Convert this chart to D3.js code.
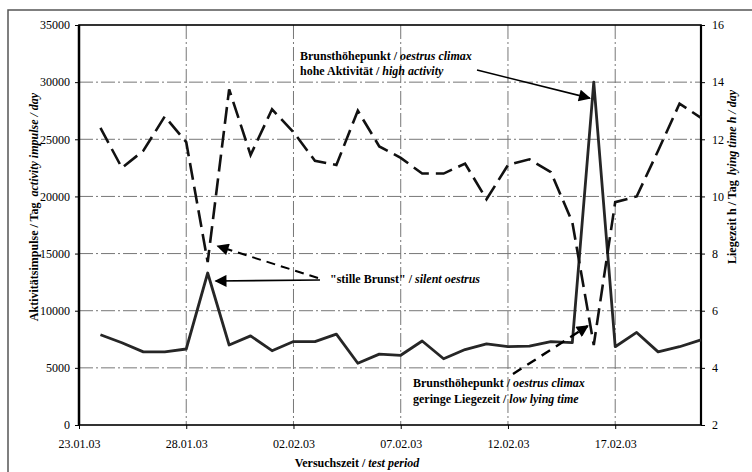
<!DOCTYPE html>
<html>
<head>
<meta charset="utf-8">
<script src="https://cdn.jsdelivr.net/npm/d3@7"></script>
<style>
  body { margin: 0; background: #fff; }
  svg { display: block; font-family: "Liberation Serif", "DejaVu Serif", serif; }
  .axis path { display: none; }
  .axis line { stroke: #000; }
</style>
</head>
<body>
<svg id="chart" width="752" height="472"></svg>
<script>
// data
const days = ["24.01.03", "25.01.03", "26.01.03", "27.01.03", "28.01.03", "29.01.03", "30.01.03",
  "31.01.03", "01.02.03", "02.02.03", "03.02.03", "04.02.03", "05.02.03", "06.02.03", "07.02.03",
  "08.02.03", "09.02.03", "10.02.03", "11.02.03", "12.02.03", "13.02.03", "14.02.03", "15.02.03",
  "16.02.03", "17.02.03", "18.02.03", "19.02.03", "20.02.03", "21.02.03"];
// activity impulses per day (left axis)
const activity = [7900, 7200, 6400, 6400, 6650, 13300, 7000, 7800, 6500, 7300, 7300, 7950, 5400, 6200, 6100,
  7350, 5800, 6600, 7100, 6850, 6900, 7300, 7200, 30000, 6850, 8100, 6400, 6850, 7450];
// lying time h per day (right axis)
const lying = [12.4, 11.0, 11.6, 12.8, 11.9, 7.7, 13.75, 11.45, 13.05, 12.25, 11.25, 11.1, 13.0, 11.75, 11.35,
  10.8, 10.8, 11.15, 9.9, 11.1, 11.3, 10.85, 9.1, 4.8, 9.8, 10.0, 11.6, 13.25, 12.75];
const xTicks = ["23.01.03", "28.01.03", "02.02.03", "07.02.03", "12.02.03", "17.02.03"];
const xEnd = "21.02.03";
const leftTicks = [0, 5000, 10000, 15000, 20000, 25000, 30000, 35000];
const rightTicks = [2, 4, 6, 8, 10, 12, 14, 16];

const parse = d3.timeParse("%d.%m.%y");
const fmt = d3.timeFormat("%d.%m.%y");
const serif = "'Liberation Serif', 'DejaVu Serif', serif";

const margin = { top: 25, right: 51, bottom: 47, left: 79 };
const width = 752 - margin.left - margin.right;
const height = 472 - margin.top - margin.bottom;

const svg = d3.select("#chart");

// outer frame of the scanned figure
svg.append("rect")
  .attr("x", 8).attr("y", 10)
  .attr("width", 800).attr("height", 500)
  .attr("fill", "none").attr("stroke", "#555").attr("stroke-width", 1.5);

const g = svg.append("g").attr("transform", `translate(${margin.left},${margin.top})`);

const x = d3.scaleTime()
  .domain([parse(xTicks[0]), parse(xEnd)])
  .range([0, width]);
const yL = d3.scaleLinear().domain([0, 35000]).range([height, 0]);
const yR = d3.scaleLinear().domain([2, 16]).range([height, 0]);

// grid
g.append("g")
  .selectAll("line")
  .data(leftTicks.slice(1, -1))
  .join("line")
  .attr("x1", 0).attr("x2", width)
  .attr("y1", d => yL(d)).attr("y2", d => yL(d))
  .attr("stroke", "#777").attr("stroke-width", 1)
  .attr("stroke-dasharray", "14,3,2,3");

g.append("g")
  .selectAll("line")
  .data(xTicks.slice(1))
  .join("line")
  .attr("x1", d => x(parse(d))).attr("x2", d => x(parse(d)))
  .attr("y1", 0).attr("y2", height)
  .attr("stroke", "#777").attr("stroke-width", 1)
  .attr("stroke-dasharray", "14,3,2,3");

// axes
g.append("g").attr("class", "axis")
  .call(d3.axisLeft(yL).tickValues(leftTicks).tickFormat(d3.format("d")).tickSize(4).tickPadding(5))
  .attr("font-family", serif).attr("font-size", 12);

g.append("g").attr("class", "axis")
  .attr("transform", `translate(${width},0)`)
  .call(d3.axisRight(yR).tickValues(rightTicks).tickSize(4).tickPadding(7))
  .attr("font-family", serif).attr("font-size", 12);

g.append("g").attr("class", "axis")
  .attr("transform", `translate(0,${height})`)
  .call(d3.axisBottom(x).tickValues(xTicks.map(parse)).tickFormat(fmt).tickSize(4).tickPadding(10))
  .attr("font-family", serif).attr("font-size", 12);

// plot frame
g.append("rect")
  .attr("width", width).attr("height", height)
  .attr("fill", "none").attr("stroke", "#000").attr("stroke-width", 1.6);
g.append("line").attr("x1", 0).attr("x2", 0).attr("y1", 0).attr("y2", height)
  .attr("stroke", "#000").attr("stroke-width", 2.5);
g.append("line").attr("x1", width).attr("x2", width).attr("y1", 0).attr("y2", height)
  .attr("stroke", "#000").attr("stroke-width", 2.2);

// lines
const lineA = d3.line()
  .x((d, i) => x(parse(days[i])))
  .y(d => yL(d));
const lineL = d3.line()
  .x((d, i) => x(parse(days[i])))
  .y(d => yR(d));

g.append("path")
  .attr("d", lineA(activity))
  .attr("fill", "none").attr("stroke", "#262626").attr("stroke-width", 2.8)
  .attr("stroke-linejoin", "round");

g.append("path")
  .attr("d", lineL(lying))
  .attr("fill", "none").attr("stroke", "#111").attr("stroke-width", 2.6)
  .attr("stroke-dasharray", "17,7");

// arrow marker
svg.append("defs").append("marker")
  .attr("id", "head")
  .attr("viewBox", "0 0 10 10")
  .attr("refX", 9).attr("refY", 5)
  .attr("markerWidth", 14).attr("markerHeight", 12)
  .attr("markerUnits", "userSpaceOnUse")
  .attr("orient", "auto")
  .append("path").attr("d", "M0,0L10,5L0,10z").attr("fill", "#000");

// annotations
function label(tx, ty, parts) {
  const t = svg.append("text").attr("x", tx).attr("y", ty)
    .attr("font-size", 12).attr("font-weight", "bold");
  parts.forEach(p => t.append("tspan").attr("font-style", p[1] ? "italic" : null).text(p[0]));
}

const iPeak = activity.indexOf(d3.max(activity));
const pkX = margin.left + x(parse(days[iPeak]));
const pkY = margin.top + yL(activity[iPeak]);

label(300, 60, [["Brunsthöhepunkt / ", false], ["oestrus climax", true]]);
label(300, 75, [["hohe Aktivität / ", false], ["high activity", true]]);
svg.append("line")
  .attr("x1", 477).attr("y1", 70).attr("x2", pkX - 4).attr("y2", pkY + 16)
  .attr("stroke", "#000").attr("stroke-width", 1.6).attr("marker-end", "url(#head)");

// silent oestrus
const iSil = 5;
const sX = margin.left + x(parse(days[iSil]));
label(330, 283, [["\"stille Brunst\" / ", false], ["silent oestrus", true]]);
svg.append("line")
  .attr("x1", 320).attr("y1", 280).attr("x2", sX + 8).attr("y2", margin.top + yL(activity[iSil]) + 8)
  .attr("stroke", "#000").attr("stroke-width", 1.6).attr("marker-end", "url(#head)");
svg.append("line")
  .attr("x1", 318).attr("y1", 278).attr("x2", sX + 10).attr("y2", margin.top + yR(lying[iSil]) - 16)
  .attr("stroke", "#000").attr("stroke-width", 2).attr("stroke-dasharray", "9,6")
  .attr("marker-end", "url(#head)");

// low lying time
const iLow = lying.indexOf(d3.min(lying));
label(413, 387, [["Brunsthöhepunkt / ", false], ["oestrus climax", true]]);
label(413, 403, [["geringe Liegezeit / ", false], ["low lying time", true]]);
svg.append("line")
  .attr("x1", 513).attr("y1", 374)
  .attr("x2", margin.left + x(parse(days[iLow])) - 6).attr("y2", margin.top + yR(lying[iLow]) - 19)
  .attr("stroke", "#000").attr("stroke-width", 2.4).attr("stroke-dasharray", "10,7")
  .attr("marker-end", "url(#head)");

// axis titles
const tl = svg.append("text")
  .attr("transform", "translate(38,207) rotate(-90)")
  .attr("text-anchor", "middle").attr("font-size", 12).attr("font-weight", "bold");
tl.append("tspan").text("Aktivitätsimpulse / Tag");
tl.append("tspan").attr("dx", 6).attr("font-style", "italic").text("activity impulse / day");

const tr = svg.append("text")
  .attr("transform", "translate(736,177) rotate(-90)")
  .attr("text-anchor", "middle").attr("font-size", 12).attr("font-weight", "bold");
tr.append("tspan").text("Liegezeit h / Tag");
tr.append("tspan").attr("dx", 5).attr("font-style", "italic").text("lying time h / day");

const tb = svg.append("text")
  .attr("x", 357).attr("y", 467)
  .attr("text-anchor", "middle").attr("font-size", 12).attr("font-weight", "bold");
tb.append("tspan").text("Versuchszeit / ");
tb.append("tspan").attr("font-style", "italic").text("test period");
</script>
</body>
</html>
